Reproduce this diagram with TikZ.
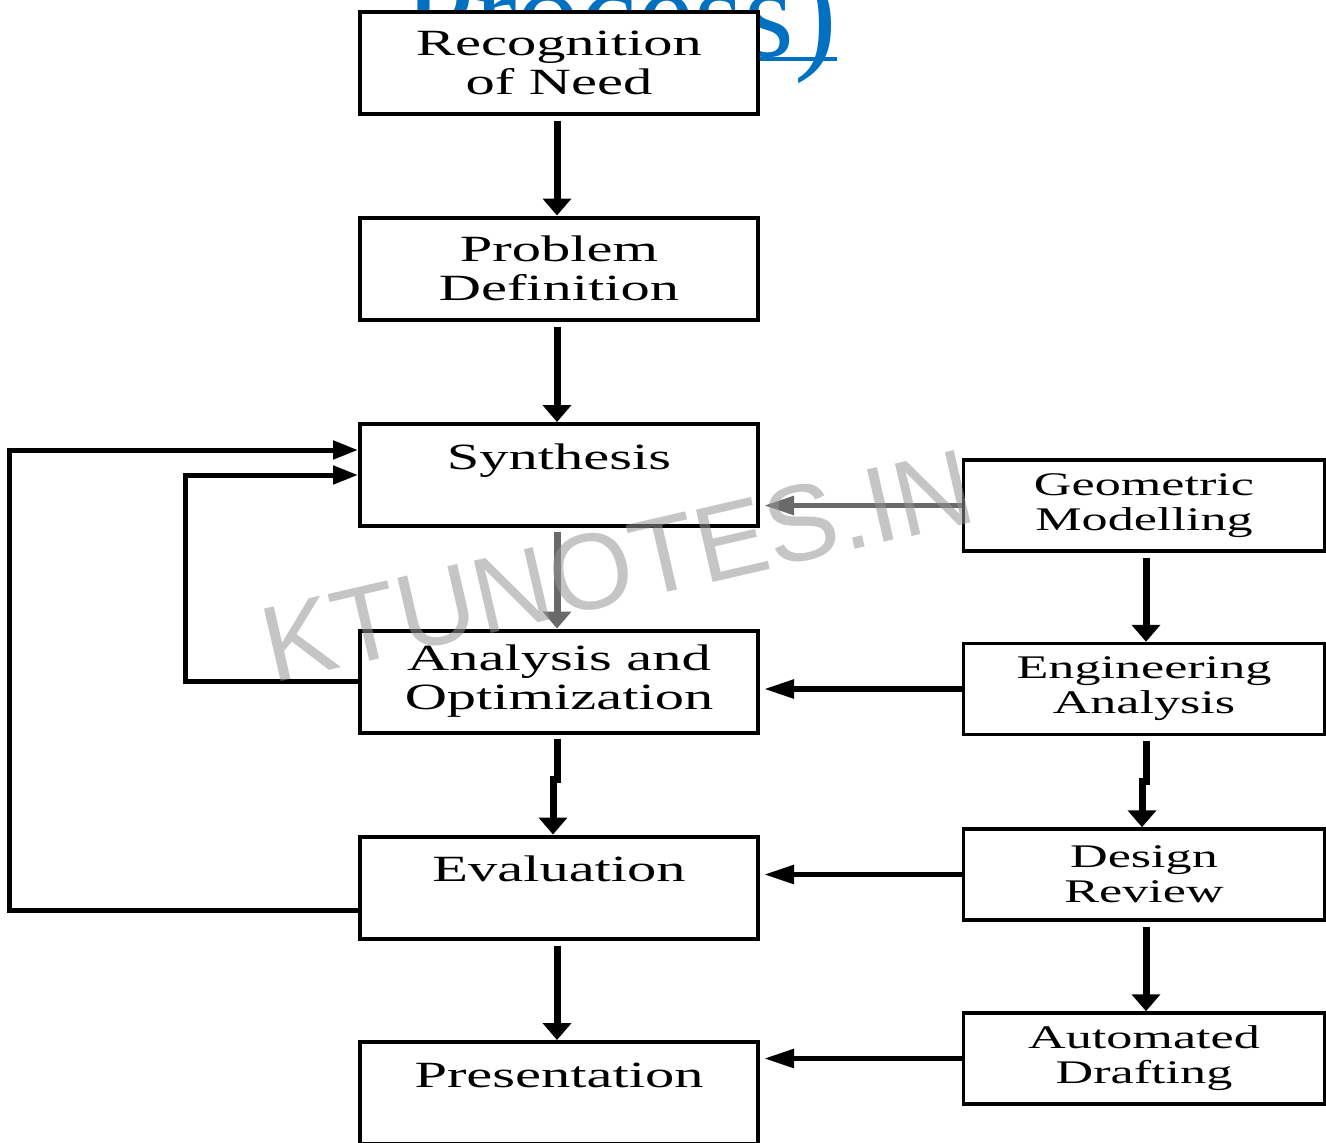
\documentclass[tikz,border=0pt]{standalone}
\usepackage{fontspec}
\usetikzlibrary{arrows.meta,positioning}
\setmainfont{Liberation Serif}
\newfontfamily\boxfont[FakeStretch=1.58]{Liberation Serif}
\newfontfamily\markfont{Liberation Sans}
\definecolor{linkblue}{RGB}{0,112,192}
\definecolor{wmgray}{RGB}{150,150,150}
\definecolor{fadegray}{RGB}{105,105,105}

\begin{document}
\begin{tikzpicture}[x=1pt,y=-1pt,
  lbox/.style={draw,line width=4pt,fill=white,minimum width=398pt,minimum height=102pt,
    align=center,inner sep=0pt,font=\boxfont\fontsize{37}{39}\selectfont},
  rbox/.style={draw,line width=3.5pt,fill=white,minimum width=361pt,minimum height=91pt,
    align=center,inner sep=0pt,font=\boxfont\fontsize{33}{35}\selectfont},
  varr/.style={line width=7pt,-{Triangle[length=17pt,width=28pt]}},
  harr/.style={line width=5.5pt,-{Triangle[length=30pt,width=18pt]}},
  back/.style={line width=5pt,-{Triangle[length=25pt,width=18pt]}}]
\useasboundingbox (0,0) rectangle (1326,1143);
\clip (0,0) rectangle (1326,1143);

% heading cut off at the top
\node[text=linkblue,font=\fontsize{128}{128}\selectfont,anchor=base,inner sep=0pt] (head) at (620,56) {Process)};
\draw[linkblue,line width=4pt] ([yshift=-3pt]head.base west) -- ([yshift=-3pt]head.base east);

% main column
\node[lbox] (need) at (559,62.5) {Recognition\\of Need};
\node[lbox] (prob) at (559,268.5) {Problem\\Definition};
\node[lbox] (syn) at (559,475) {Synthesis\\[-14pt]\strut};
\node[lbox] (ana) at (559,681.5) {Analysis and\\Optimization};
\node[lbox] (eva) at (559,887.5) {Evaluation\\[-14pt]\strut};
\node[lbox] (pres) at (559,1093) {Presentation\\[-16pt]\strut};

% CAD column
\node[rbox] (geo) at (1144,505.5) {\raisebox{-4pt}{Geometric}\\\raisebox{-4pt}{Modelling}};
\node[rbox] (eng) at (1144,689) {\raisebox{-3pt}{Engineering}\\\raisebox{-3pt}{Analysis}};
\node[rbox] (rev) at (1144,874.5) {Design\\Review};
\node[rbox] (draft) at (1144,1058.5) {Automated\\Drafting};

\foreach \a/\b in {need/prob,prob/syn,eva/pres}
    \draw[varr,shorten <=5pt] ([xshift=-2pt]\a.south) -- ([xshift=-2pt]\b.north);
\draw[varr,fadegray,shorten <=4pt] ([xshift=-2pt]syn.south) -- ([xshift=-2pt]ana.north);
\draw[varr,shorten <=4pt] ([xshift=-2pt]ana.south) -- ++(0,45) -| ([xshift=-6pt]eva.north);

\draw[varr,shorten <=5pt] ([xshift=2pt]geo.south) -- ([xshift=2pt]eng.north);
\draw[varr,shorten <=5pt] ([xshift=2pt]eng.south) -- ++(0,45) -| ([xshift=-2pt]rev.north);
\draw[varr,shorten <=5pt] ([xshift=2pt]rev.south) -- ([xshift=2pt]draft.north);

\draw[harr,fadegray,shorten >=4pt] (geo.west) -- (geo.west -| syn.east);
\foreach \a/\b in {eng/ana,rev/eva,draft/pres}
    \draw[harr,shorten >=4pt] (\a.west) -- (\a.west -| \b.east);

% feedback to synthesis
\draw[back] ([yshift=-23pt]eva.west) -- ++(-349,0) |- ([yshift=25pt]syn.west);
\draw[back] (ana.west) -- ++(-173,0) |- (syn.west);

% watermark
\node[text=wmgray,opacity=0.55,font=\markfont\fontsize{108}{108}\selectfont,
      rotate=13,anchor=base west,inner sep=0pt] (mark) at (272,684) {KTUNOTES.IN};
\end{tikzpicture}
\end{document}
